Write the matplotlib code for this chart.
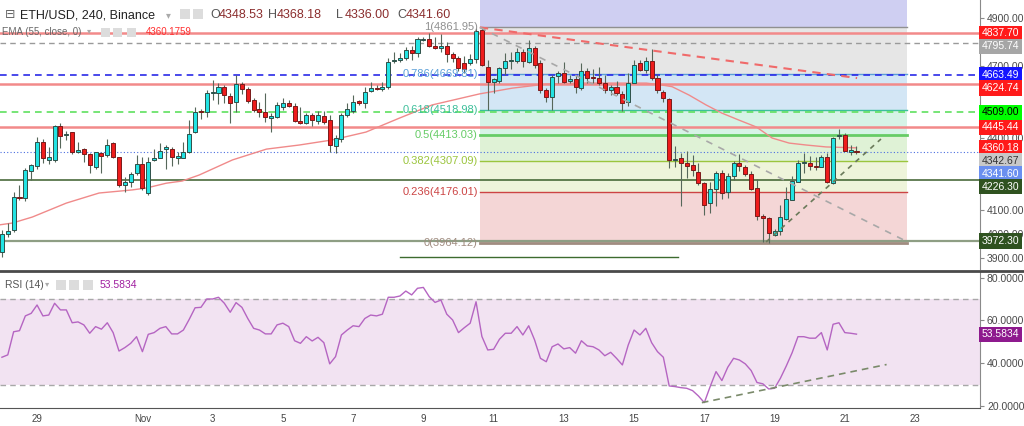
import matplotlib
matplotlib.use('Agg')
import matplotlib.pyplot as plt
import matplotlib.transforms as mtransforms
from matplotlib.patches import Rectangle
from matplotlib.lines import Line2D
import numpy as np

plt.rcParams['font.family'] = ['Liberation Sans', 'DejaVu Sans']

# ETH/USD 4h candles, first one opens Oct 28 00:00 (x axis in days, Nov 1 = 1)
opens = [3926, 4001, 4018, 4155, 4150, 4262, 4284, 4384, 4310, 4310,
         4451, 4414, 4426, 4343, 4355, 4334, 4280, 4339, 4330, 4380,
         4322, 4205, 4218, 4255, 4293, 4172, 4310, 4318, 4355, 4355,
         4318, 4318, 4343, 4426, 4514, 4509, 4589, 4589, 4614, 4576,
         4551, 4626, 4605, 4560, 4522, 4509, 4485, 4489, 4531, 4547,
         4535, 4472, 4464, 4497, 4472, 4493, 4476, 4368, 4397, 4497,
         4514, 4555, 4547, 4597, 4610, 4605, 4614, 4722, 4726, 4735,
         4768, 4755, 4810, 4814, 4785, 4776, 4785, 4751, 4735, 4714,
         4714, 4730, 4851, 4697, 4635, 4639, 4693, 4722, 4722, 4760,
         4718, 4776, 4714, 4601, 4572, 4660, 4672, 4639, 4647, 4610,
         4680, 4656, 4651, 4630, 4601, 4614, 4585, 4551, 4630, 4714,
         4685, 4722, 4651, 4593, 4564, 4310, 4318, 4297, 4289, 4259,
         4213, 4130, 4189, 4255, 4176, 4243, 4297, 4280, 4251, 4193,
         4076, 4068, 3997, 4013, 4064, 4143, 4218, 4297, 4297, 4284,
         4280, 4322, 4214, 4410, 4414, 4343, 4348.53]
highs = [4018, 4047, 4176, 4205, 4275, 4293, 4405, 4397, 4364, 4455,
         4463, 4430, 4426, 4384, 4359, 4339, 4343, 4343, 4397, 4384,
         4322, 4238, 4259, 4330, 4322, 4322, 4355, 4380, 4372, 4364,
         4343, 4384, 4476, 4530, 4522, 4601, 4643, 4630, 4622, 4589,
         4664, 4635, 4614, 4568, 4551, 4589, 4505, 4551, 4568, 4560,
         4547, 4530, 4505, 4505, 4514, 4514, 4497, 4414, 4505, 4547,
         4580, 4560, 4614, 4635, 4622, 4635, 4735, 4760, 4755, 4780,
         4785, 4822, 4822, 4839, 4820, 4835, 4800, 4760, 4743, 4743,
         4750, 4860, 4862, 4726, 4651, 4697, 4755, 4760, 4776, 4772,
         4810, 4785, 4726, 4610, 4664, 4680, 4718, 4664, 4664, 4714,
         4693, 4689, 4697, 4664, 4622, 4639, 4597, 4672, 4726, 4726,
         4739, 4772, 4668, 4601, 4568, 4368, 4339, 4347, 4330, 4297,
         4218, 4218, 4264, 4268, 4255, 4305, 4335, 4289, 4264, 4230,
         4084, 4072, 4022, 4122, 4197, 4243, 4310, 4339, 4326, 4322,
         4330, 4339, 4405, 4439, 4422, 4372, 4368.18]
lows = [3905, 3990, 4010, 4143, 4140, 4226, 4272, 4297, 4293, 4301,
        4359, 4393, 4335, 4339, 4301, 4255, 4272, 4255, 4322, 4318,
        4197, 4176, 4197, 4247, 4184, 4164, 4305, 4318, 4272, 4284,
        4293, 4318, 4339, 4422, 4480, 4489, 4560, 4543, 4547, 4464,
        4509, 4585, 4547, 4509, 4489, 4468, 4426, 4485, 4518, 4531,
        4468, 4460, 4460, 4451, 4460, 4460, 4343, 4339, 4384, 4489,
        4505, 4540, 4526, 4593, 4601, 4597, 4605, 4714, 4718, 4726,
        4726, 4739, 4806, 4780, 4772, 4760, 4718, 4718, 4680, 4672,
        4705, 4714, 4700, 4519, 4589, 4630, 4664, 4689, 4714, 4697,
        4714, 4693, 4589, 4551, 4518, 4630, 4630, 4630, 4589, 4601,
        4630, 4630, 4622, 4589, 4580, 4580, 4514, 4535, 4630, 4680,
        4672, 4643, 4589, 4551, 4276, 4280, 4118, 4234, 4243, 4205,
        4080, 4089, 4118, 4147, 4151, 4226, 4264, 4243, 4184, 4059,
        3968, 3964, 3993, 3997, 4060, 4143, 4218, 4255, 4268, 4268,
        4280, 4214, 4210, 4397, 4347, 4330, 4336.00]
closes = [4001, 4012, 4155, 4150, 4268, 4289, 4384, 4318, 4322, 4451,
          4409, 4416, 4343, 4350, 4334, 4289, 4343, 4326, 4372, 4322,
          4205, 4218, 4251, 4293, 4193, 4301, 4318, 4347, 4363, 4322,
          4326, 4343, 4418, 4509, 4509, 4589, 4593, 4614, 4580, 4547,
          4626, 4605, 4555, 4518, 4509, 4489, 4493, 4539, 4547, 4535,
          4472, 4464, 4497, 4476, 4497, 4468, 4372, 4401, 4497, 4522,
          4551, 4547, 4593, 4610, 4605, 4614, 4718, 4726, 4735, 4768,
          4755, 4814, 4814, 4785, 4776, 4785, 4751, 4735, 4693, 4689,
          4730, 4847, 4705, 4635, 4647, 4693, 4722, 4726, 4760, 4722,
          4776, 4705, 4601, 4572, 4655, 4672, 4635, 4647, 4614, 4680,
          4651, 4651, 4630, 4601, 4614, 4589, 4547, 4630, 4705, 4685,
          4722, 4651, 4601, 4568, 4310, 4312, 4297, 4284, 4268, 4213,
          4122, 4189, 4255, 4172, 4243, 4297, 4284, 4251, 4189, 4076,
          4068, 4005, 4013, 4072, 4147, 4222, 4297, 4299, 4284, 4280,
          4322, 4218, 4401, 4414, 4347, 4352, 4341.60]

rsi = [42.8, 43.9, 54.7, 55.2, 62.1, 63.3, 67.2, 62.1, 62.5, 68.0,
       64.9, 64.9, 58.9, 59.3, 57.9, 54.0, 57.1, 55.9, 58.9, 54.3,
       45.7, 47.3, 49.3, 52.4, 45.4, 53.5, 54.3, 56.3, 57.1, 53.7,
       53.7, 55.5, 60.5, 65.9, 66.1, 70.0, 70.0, 70.8, 68.0, 63.8,
       68.3, 66.1, 60.9, 56.3, 55.5, 53.7, 53.7, 57.9, 58.7, 57.1,
       50.5, 49.3, 52.4, 50.4, 52.1, 49.6, 39.7, 43.1, 53.2, 55.5,
       57.5, 57.1, 60.9, 62.5, 62.1, 62.9, 70.8, 70.8, 71.4, 73.7,
       71.9, 75.0, 75.4, 71.1, 68.4, 69.5, 62.9, 60.2, 54.3, 56.6,
       58.7, 68.7, 52.5, 46.2, 46.5, 51.2, 54.0, 54.0, 57.1, 53.2,
       57.5, 50.9, 42.3, 40.7, 47.7, 49.0, 46.7, 47.3, 44.7, 50.5,
       48.1, 47.7, 46.2, 43.5, 45.1, 42.3, 39.2, 48.5, 55.5, 53.2,
       56.3, 49.6, 45.4, 42.8, 29.4, 29.1, 28.6, 28.3, 27.2, 24.7,
       21.6, 29.1, 36.1, 31.9, 38.1, 42.3, 41.5, 39.7, 36.6, 31.0,
       30.4, 28.0, 28.3, 33.0, 38.7, 44.9, 52.4, 52.4, 51.7, 51.7,
       54.3, 46.2, 58.2, 58.9, 54.3, 54.0, 53.5834]

# EMA(55) at candle positions
ema_idx = [-0.5, 1.8, 5.2, 11.0, 16.6, 22.3, 24.7, 28.1, 30.8, 33.7,
           39.4, 45.2, 50.8, 56.4, 62.2, 67.9, 73.5, 81.6, 87.2, 93.0,
           98.6, 104.3, 110.1, 112.8, 114.5, 117.4, 120.3, 123.0, 125.9,
           128.9, 131.6, 134.5, 137.4, 140.8, 146]
ema_vals = [4039, 4047, 4072, 4130, 4172, 4185, 4193, 4213, 4222, 4247,
            4310, 4355, 4372, 4393, 4426, 4484, 4539, 4585, 4609, 4626,
            4630, 4630, 4630, 4622, 4615, 4580, 4539, 4505, 4476,
            4447, 4401, 4380, 4372, 4364, 4360.18]

tick_days = [-2, 1, 3, 5, 7, 9, 11, 13, 15, 17, 19, 21, 23]
tick_labels = ['29', 'Nov', '3', '5', '7', '9', '11', '13', '15', '17', '19', '21', '23']

fib_high = 4861.95
fib_low = 3964.12
fib_levels = [1.618, 1, 0.786, 0.618, 0.5, 0.382, 0.236, 0]
fib_line_colors = ['#9090d0', '#909090', '#5a9fd8', '#3dbf9a', '#66cc66', '#9bc53d', '#cc4444', '#a08c80']
fib_fill_colors = ['#cfcff2', '#e6e6e6', '#d3e6f5', '#d6f3e6', '#dff2d6', '#eef4da', '#f4d6d6']

# horizontal lines drawn across the whole chart
h_prices = [4837.70, 4795.74, 4663.49, 4624.74, 4509.00, 4445.44, 4226.30, 3972.30]
h_colors = ['#f28a8a', '#9a9a9a', '#2a2ae8', '#f28a8a', '#5fe05f', '#f28a8a', '#3b5e2b', '#8e9e84']
h_styles = ['-', (0, (4, 3)), (0, (4, 3)), '-', (0, (4, 3)), '-', '-', '-']
h_widths = [1.8, 1.0, 1.2, 1.8, 1.2, 1.8, 1.1, 1.6]

# price scale labels
lab_prices = [4837.70, 4795.74, 4663.49, 4624.74, 4509.00, 4445.44, 4360.18, 4342.67, 4341.60, 4226.30, 3972.30]
lab_bg = ['#ff1a1a', '#a6a6a6', '#1414ff', '#ff1a1a', '#00ff00', '#ff1a1a', '#ff1a1a', '#c8c8c8', '#6a8ff0', '#2f5220', '#2f5220']
lab_fg = ['white', 'white', 'white', 'white', 'black', 'white', 'white', '#333333', 'white', 'white', 'white']

W, H = 1024, 426
fig = plt.figure(figsize=(W / 100, H / 100), dpi=100)
ax = fig.add_axes([0, 1 - 269 / H, 980 / W, 269 / H])
rx = fig.add_axes([0, 1 - 408 / H, 980 / W, 136 / H])

n = len(closes)
t = -3 + np.arange(n) / 6.0
o = np.array(opens, float)
hi = np.array(highs, float)
lo = np.array(lows, float)
c = np.array(closes, float)

xlim = (-3.055, 24.85)
ylim = (3855.4, 4976.25)
ax.set_xlim(*xlim)
ax.set_ylim(*ylim)
px_per_price = 269 / (ylim[1] - ylim[0])

# fib retracement box
fib_start, fib_end = 10.61, 22.77
rng = fib_high - fib_low
fib_prices = [fib_low + lv * rng for lv in fib_levels]
for k in range(len(fib_levels) - 1):
    ax.fill_between([fib_start, fib_end], fib_prices[k + 1], fib_prices[k],
                    color=fib_fill_colors[k], lw=0, zorder=0)
for lv, p, col in zip(fib_levels, fib_prices, fib_line_colors):
    if lv > 1:
        continue
    lw = 2 if lv in (0.5, 0) else 1
    ax.plot([fib_start, fib_end], [p, p], color=col, lw=lw, zorder=1)
    ax.text(fib_start - 0.06, p, f'{lv:g}({p:.2f})', color=col, fontsize=8,
            ha='right', va='center', zorder=6)

for p, col, ls, lw in zip(h_prices, h_colors, h_styles, h_widths):
    ax.axhline(p, color=col, ls=ls, lw=lw, zorder=1)
ax.axhline(closes[-1], color='#4a6ee0', ls=(0, (1, 2)), lw=0.8, zorder=1)
ax.plot([8.33, 16.25], [3905, 3905], color='#3d6b2f', lw=1, zorder=1)

# EMA
ax.plot(-3 + np.array(ema_idx) / 6.0, ema_vals, color='#f08a8a', lw=1, zorder=2)

# candles
ax.vlines(t, lo, hi, color='#56675a', lw=0.8, zorder=3)
up = c >= o
bot = np.minimum(o, c)
bh = np.maximum(np.abs(c - o), 2.5)
ax.bar(t[up], bh[up], bottom=bot[up], width=0.115, color='#22e3e3',
       edgecolor='#2e5048', lw=0.7, zorder=4)
ax.bar(t[~up], bh[~up], bottom=bot[~up], width=0.115, color='#ee1c1c',
       edgecolor='#7a1a1a', lw=0.7, zorder=4)

# trend lines
ax.plot([10.61, 21.35], [4862, 4651], color='#f06a6a', ls=(0, (4, 3)), lw=1.5, zorder=5)
ax.plot([10.61, 22.71], [4862, 3974], color='#a8a8a8', ls=(0, (4, 4)), lw=1.2, zorder=5)
ax.plot([18.76, 22.03], [3968, 4397], color='#6a7a5a', ls=(0, (3, 3)), lw=1.2, zorder=5)

# axes styling
for a in (ax, rx):
    for s in ('left', 'top', 'bottom'):
        a.spines[s].set_visible(False)
    a.spines['right'].set_color('#8a8a8a')
    a.yaxis.tick_right()
    a.tick_params(axis='y', length=3, width=0.8, color='#8a8a8a', pad=2,
                  labelsize=7.5, labelcolor='#4a4a4a')
ax.set_xticks([])

# price labels on the scale, pushed down when they overlap
gap = 13 / px_per_price
lab_pos = []
prev = None
for p, bg, fg in sorted(zip(lab_prices, lab_bg, lab_fg), key=lambda z: -z[0]):
    yv = p if prev is None else min(p, prev - gap)
    prev = yv
    lab_pos.append((p, yv, bg, fg))

# ticks hidden under a label box are left out
yt = [v for v in np.arange(3900, 4901, 100)
      if all(abs(v - yv) * px_per_price >= 6.5 for _, yv, _, _ in lab_pos)]
ax.set_yticks(yt)
ax.set_yticklabels([f'{v:.2f}' for v in yt])

trans = mtransforms.blended_transform_factory(ax.transAxes, ax.transData)
for p, yv, bg, fg in lab_pos:
    ax.text(1.002, yv, f'{p:.2f}', transform=trans, ha='left', va='center',
            fontsize=7.5, color=fg, clip_on=False, zorder=10,
            bbox=dict(boxstyle='square,pad=0.25', fc=bg, ec='none'))

# RSI panel
rx.set_xlim(*xlim)
rx.set_ylim(19.1, 82.6)
rx.axhspan(30, 70, color='#f2e3f2', lw=0, zorder=0)
rx.axhline(70, color='#a8a8a8', ls=(0, (4, 3)), lw=1, zorder=1)
rx.axhline(30, color='#a8a8a8', ls=(0, (4, 3)), lw=1, zorder=1)
rx.plot(t, rsi, color='#b565c2', lw=1, zorder=3)
rx.plot([16.93, 22.19], [21.6, 39.4], color='#7a8a6a', ls=(0, (4, 3)), lw=1.2, zorder=4)
rx.set_yticks([20, 40, 60, 80])
rx.set_yticklabels([f'{v:.4f}' for v in (20, 40, 60, 80)])
rx.spines['bottom'].set_visible(True)
rx.spines['bottom'].set_color('#555555')
rx.set_xticks(tick_days)
rx.set_xticklabels(tick_labels)
rx.tick_params(axis='x', length=0, pad=4, labelsize=7, labelcolor='#444444')
rtrans = mtransforms.blended_transform_factory(rx.transAxes, rx.transData)
rx.text(1.002, rsi[-1], f'{rsi[-1]:.4f}', transform=rtrans, ha='left', va='center',
        fontsize=7.5, color='white', clip_on=False, zorder=10,
        bbox=dict(boxstyle='square,pad=0.25', fc='#8e1a8e', ec='none'))

fig.add_artist(Line2D([0, 1], [1 - 270.5 / H] * 2, color='#4a4a4a', lw=2,
                      transform=fig.transFigure))


def ftext(x, y, s, **kw):
    fig.text(x / W, 1 - y / H, s, va='center', ha='left', **kw)


def icon(x, y, w=10, h=10):
    fig.add_artist(Rectangle((x / W, 1 - (y + h) / H), w / W, h / H,
                             transform=fig.transFigure, fc='#dcdcdc', ec='none'))


# header
ftext(5, 15, '⊟', fontsize=9, color='#666666')
ftext(20, 15, 'ETH/USD, 240, Binance', fontsize=9, color='#222222')
ftext(166, 15, '▾', fontsize=7, color='#aaaaaa')
icon(180, 9)
icon(193, 9)
for x, letter, val in zip([210, 268, 336, 397], 'OHLC', [opens[-1], highs[-1], lows[-1], closes[-1]]):
    ftext(x, 15, letter, fontsize=9, color='#555555')
    ftext(x + 9, 15, f'{val:.2f}', fontsize=9, color='#8b2e2e')

ftext(2, 32, 'EMA (55, close, 0)', fontsize=7, color='#666666')
ftext(87, 32, '▾', fontsize=6, color='#aaaaaa')
icon(101, 28, 9, 9)
icon(113, 28, 9, 9)
icon(127, 28, 9, 9)
ftext(146, 32, '4360.1759', fontsize=7, color='#ff3030')

ftext(5, 285, 'RSI (14)', fontsize=7.5, color='#555555')
ftext(45, 285, '▾', fontsize=6, color='#aaaaaa')
icon(56, 280)
icon(69, 280)
icon(83, 280)
ftext(100, 285, '53.5834', fontsize=7.5, color='#a020a0')

fig.savefig('out.png', dpi=100)
